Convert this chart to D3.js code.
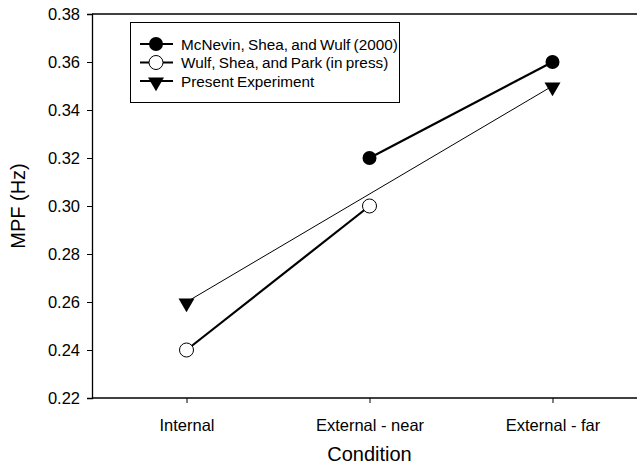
<!DOCTYPE html>
<html><head><meta charset="utf-8">
<script src="https://cdn.jsdelivr.net/npm/d3@7"></script>
<style>body{margin:0;background:#fff}svg{display:block}text{font-family:Arial,"Liberation Sans",sans-serif;fill:#000}</style>
</head><body><svg id="c" width="637" height="468"></svg>
<script>
const categories = ["Internal", "External - near", "External - far"];
const mcnevin = [null, 0.32, 0.36];
const wulf = [0.24, 0.30, null];
const present = [0.26, null, 0.35];
const seriesNames = ["McNevin, Shea, and Wulf (2000)", "Wulf, Shea, and Park (in press)", "Present Experiment"];
const yTicks = [0.22, 0.24, 0.26, 0.28, 0.30, 0.32, 0.34, 0.36, 0.38];

const svg = d3.select("#c");
const mLeft = 92, mTop = 14, mBottom = 398;
const x = d3.scalePoint().domain(categories).range([95, 644]).padding(0.5);
const y = d3.scaleLinear().domain([0.22, 0.38]).range([mBottom, mTop]);

// axes
const ya = svg.append("g").attr("transform", `translate(${mLeft},0)`)
  .call(d3.axisLeft(y).tickValues(yTicks).tickFormat(d3.format(".2f")).tickSize(5).tickPadding(7));
ya.select(".domain").attr("stroke-width", 1.3);
ya.selectAll("text").style("font-size", "16.5px");
const xa = svg.append("g").attr("transform", `translate(0,${mBottom})`)
  .call(d3.axisBottom(x).tickSize(5).tickPadding(16));
xa.select(".domain").attr("d", `M${mLeft},0H637`).attr("stroke-width", 1.3);
xa.selectAll("text").style("font-size", "16.5px");
svg.append("line").attr("x1", mLeft).attr("x2", 637).attr("y1", mTop).attr("y2", mTop).attr("stroke", "#000").attr("stroke-width", 1.3);

svg.append("text").attr("x", x("External - near")).attr("y", 461).attr("text-anchor", "middle").style("font-size", "20px").text("Condition");
svg.append("text").attr("transform", `translate(25,${(mTop+mBottom)/2}) rotate(-90)`).attr("text-anchor", "middle").style("font-size", "20px").text("MPF (Hz)");

function pts(vals){ return categories.map((c,i)=>({c, v: vals[i]})).filter(d=>d.v!=null); }
const line = d3.line().x(d=>x(d.c)).y(d=>y(d.v));
const series = [
  {vals: present, w: 1, m: "tri"},
  {vals: mcnevin, w: 2.2, m: "fill"},
  {vals: wulf, w: 2.2, m: "open"}
];
const tri = d3.symbol().type(d3.symbolTriangle).size(110);
function marker(g, type, cx, cy){
  if(type==="fill") g.append("circle").attr("cx",cx).attr("cy",cy).attr("r",7).attr("fill","#000");
  else if(type==="open") g.append("circle").attr("cx",cx).attr("cy",cy).attr("r",7).attr("fill","#fff").attr("stroke","#000").attr("stroke-width",1);
  else g.append("path").attr("d",tri).attr("transform",`translate(${cx},${cy+1}) rotate(180)`).attr("fill","#000");
}
series.forEach(s=>{
  const p = pts(s.vals);
  svg.append("path").attr("d", line(p)).attr("fill","none").attr("stroke","#000").attr("stroke-width",s.w);
});
series.forEach(s=>{
  pts(s.vals).forEach(d=>marker(svg, s.m, x(d.c), y(d.v)));
});

// legend
const lg = svg.append("g");
lg.append("rect").attr("x",130.5).attr("y",22.5).attr("width",269).attr("height",80).attr("fill","#fff").attr("stroke","#000").attr("stroke-width",1);
const legTypes = ["fill","open","tri"];
seriesNames.forEach((n,i)=>{
  const ly = 44 + i*18.5;
  lg.append("line").attr("x1",140).attr("x2",173).attr("y1",ly).attr("y2",ly).attr("stroke","#000").attr("stroke-width",2);
  marker(lg, legTypes[i], 156, ly);
  lg.append("text").attr("x",181).attr("y",ly+5.5).style("font-size","15.3px").style("word-spacing","-1px").text(n);
});
</script></body></html>
